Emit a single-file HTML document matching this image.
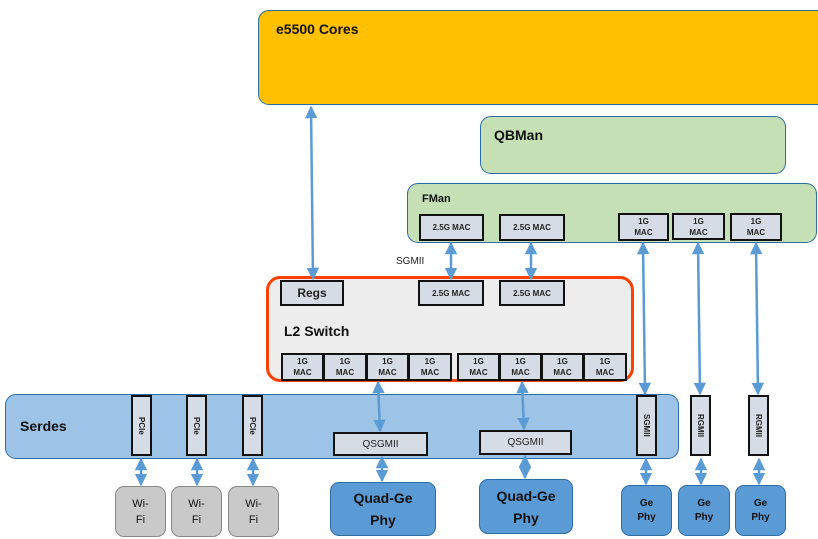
<!DOCTYPE html>
<html><head><meta charset="utf-8"><style>
body{margin:0;width:818px;height:539px;background:#fff;position:relative;overflow:hidden;font-family:"Liberation Sans",sans-serif}
div{position:absolute;box-sizing:border-box}
.rb{border:1.5px solid #2E6DA4;border-radius:11px}
.m{background:#D6DCE5;border:2px solid #111;font-weight:bold;font-size:8px;display:flex;align-items:center;justify-content:center;text-align:center;line-height:11px;color:#222}
.v{writing-mode:vertical-rl;font-size:8px}
.t{font-weight:bold;color:#111}
.phy{background:#5B9BD5;border:1.5px solid #2E6DA4;border-radius:9px;display:flex;align-items:center;justify-content:center;text-align:center;font-weight:bold;color:#111}
.wifi{background:#C9C9C9;border:1.5px solid #888;border-radius:9px;display:flex;align-items:center;justify-content:center;text-align:center;font-size:11px;line-height:16px;color:#111}
</style></head><body>
<div class="rb" style="left:258px;top:10px;width:575px;height:95px;background:#FFC000"></div>
<div class="t" style="left:276px;top:21px;font-size:14px">e5500 Cores</div>
<div class="rb" style="left:480px;top:116px;width:306px;height:58px;background:#C5E0B4"></div>
<div class="t" style="left:494px;top:127px;font-size:14px">QBMan</div>
<div class="rb" style="left:407px;top:183px;width:410px;height:60px;background:#C5E0B4"></div>
<div class="t" style="left:422px;top:193px;font-size:11px">FMan</div>
<div class="m" style="left:419px;top:214px;width:65px;height:27px">2.5G MAC</div>
<div class="m" style="left:499px;top:214px;width:66px;height:27px">2.5G MAC</div>
<div class="m" style="left:618px;top:213px;width:51px;height:28px">1G<br>MAC</div>
<div class="m" style="left:672px;top:213px;width:53px;height:27px">1G<br>MAC</div>
<div class="m" style="left:730px;top:213px;width:52px;height:28px">1G<br>MAC</div>
<div style="left:396px;top:256px;font-size:10px;color:#222">SGMII</div>
<div style="left:266px;top:276px;width:368px;height:106px;background:#EDEDED;border:3.5px solid #FF4000;border-radius:14px"></div>
<div class="m" style="left:280px;top:280px;width:64px;height:26px;font-size:12px">Regs</div>
<div class="m" style="left:418px;top:280px;width:66px;height:26px">2.5G MAC</div>
<div class="m" style="left:499px;top:280px;width:66px;height:26px">2.5G MAC</div>
<div class="t" style="left:284px;top:323px;font-size:14px">L2 Switch</div>
<div class="m" style="left:281px;top:353px;width:43px;height:28px">1G<br>MAC</div>
<div class="m" style="left:323px;top:353px;width:44px;height:28px">1G<br>MAC</div>
<div class="m" style="left:366px;top:353px;width:43px;height:28px">1G<br>MAC</div>
<div class="m" style="left:408px;top:353px;width:44px;height:28px">1G<br>MAC</div>
<div class="m" style="left:457px;top:353px;width:43px;height:28px">1G<br>MAC</div>
<div class="m" style="left:499px;top:353px;width:43px;height:28px">1G<br>MAC</div>
<div class="m" style="left:541px;top:353px;width:43px;height:28px">1G<br>MAC</div>
<div class="m" style="left:583px;top:353px;width:44px;height:28px">1G<br>MAC</div>
<div class="rb" style="left:5px;top:394px;width:674px;height:65px;background:#9DC3E6"></div>
<div class="t" style="left:20px;top:418px;font-size:14px">Serdes</div>
<div class="m v" style="left:131px;top:395px;width:21px;height:61px">PCIe</div>
<div class="m v" style="left:186px;top:395px;width:21px;height:61px">PCIe</div>
<div class="m v" style="left:242px;top:395px;width:21px;height:61px">PCIe</div>
<div class="m" style="left:333px;top:432px;width:95px;height:24px;font-size:10px;font-weight:normal">QSGMII</div>
<div class="m" style="left:479px;top:430px;width:93px;height:25px;font-size:10px;font-weight:normal">QSGMII</div>
<div class="m v" style="left:636px;top:395px;width:21px;height:61px">SGMII</div>
<div class="m v" style="left:690px;top:395px;width:21px;height:61px">RGMII</div>
<div class="m v" style="left:748px;top:395px;width:21px;height:61px">RGMII</div>
<div class="wifi" style="left:115px;top:486px;width:51px;height:51px">Wi-<br>Fi</div>
<div class="wifi" style="left:171px;top:486px;width:51px;height:51px">Wi-<br>Fi</div>
<div class="wifi" style="left:228px;top:486px;width:51px;height:51px">Wi-<br>Fi</div>
<div class="phy" style="left:330px;top:482px;width:106px;height:54px;font-size:14px;line-height:22px">Quad-Ge<br>Phy</div>
<div class="phy" style="left:479px;top:479px;width:94px;height:55px;font-size:14px;line-height:22px">Quad-Ge<br>Phy</div>
<div class="phy" style="left:621px;top:485px;width:51px;height:51px;font-size:10px;line-height:14px">Ge<br>Phy</div>
<div class="phy" style="left:678px;top:485px;width:52px;height:51px;font-size:10px;line-height:14px">Ge<br>Phy</div>
<div class="phy" style="left:735px;top:485px;width:51px;height:51px;font-size:10px;line-height:14px">Ge<br>Phy</div>
<svg width="818" height="539" style="position:absolute;left:0;top:0">
<defs><marker id="a" viewBox="0 0 10 10" refX="9" refY="5" markerWidth="5" markerHeight="5" orient="auto-start-reverse"><path d="M0,0L10,5L0,10z" fill="#5B9BD5"/></marker></defs>
<g stroke="#5B9BD5" stroke-width="2.5" marker-start="url(#a)" marker-end="url(#a)">
<line x1="311" y1="107" x2="313" y2="279"/>
<line x1="451" y1="243" x2="451" y2="279"/>
<line x1="531" y1="243" x2="531" y2="279"/>
<line x1="378" y1="382" x2="380" y2="431"/>
<line x1="522" y1="382" x2="524" y2="429"/>
<line x1="643" y1="243" x2="645" y2="394"/>
<line x1="698" y1="243" x2="700" y2="394"/>
<line x1="756" y1="243" x2="758" y2="394"/>
<line x1="141" y1="459" x2="141" y2="485"/>
<line x1="197" y1="459" x2="197" y2="485"/>
<line x1="253" y1="459" x2="253" y2="485"/>
<line x1="382" y1="457" x2="382" y2="481"/>
<line x1="525" y1="456" x2="525" y2="478"/>
<line x1="646" y1="459" x2="646" y2="484"/>
<line x1="701" y1="459" x2="701" y2="484"/>
<line x1="759" y1="459" x2="759" y2="484"/>
</g></svg>
</body></html>
